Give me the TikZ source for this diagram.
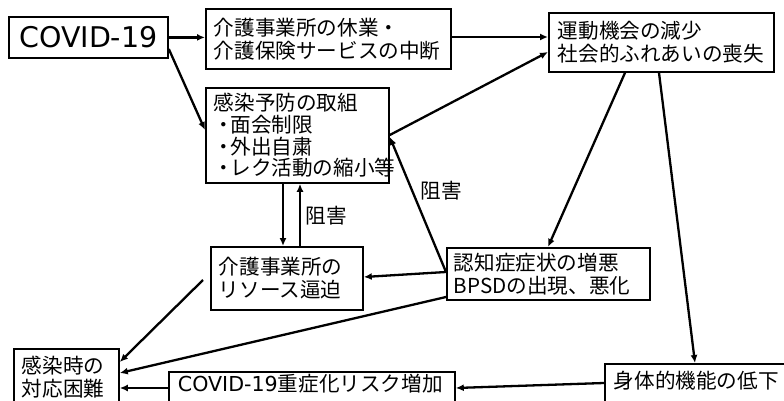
\documentclass[tikz,border=0pt]{standalone}
\usepackage{fontspec}
\setmainfont{Noto Sans CJK JP}
\newfontfamily\latfont{DejaVu Sans}
\usetikzlibrary{arrows.meta,calc}
\newcommand{\bul}{・\kern-4pt}
\begin{document}
\begin{tikzpicture}[x=1pt,y=-1pt,
  box/.style={draw, line width=1.8pt, anchor=north west, inner xsep=8pt, inner ysep=0pt,
    align=left, font=\fontsize{20.6}{23}\selectfont},
  arr/.style={line width=2.3pt, -{Latex[length=8pt,width=7pt]}},
  lbl/.style={font=\fontsize{20.6}{23}\selectfont, inner sep=0pt}]
\useasboundingbox (0,0) rectangle (784,401);
\clip (0,0) rectangle (784,401);
\node[draw, line width=1.8pt, anchor=north west, inner sep=0pt, minimum width=159pt, minimum height=41pt,
  font=\latfont\fontsize{28.5}{30}\selectfont] (b1) at (8,16) {COVID-19};
\node[box, text width=229pt, minimum height=60pt] (b2) at (205,8) {介護事業所の休業・\\介護保険サービスの中断};
\node[box, inner xsep=9pt, text width=207pt, minimum height=59pt] (b3) at (548,12) {運動機会の減少\\社会的ふれあいの喪失};
\node[box, text width=167pt, minimum height=95pt, font=\fontsize{20.6}{21.7}\selectfont] (b4) at (205,87) {感染予防の取組\\\bul 面会制限\\\bul 外出自粛\\\bul レク活動の縮小等};
\node[box, text width=136pt, minimum height=63pt] (b5) at (210,246) {介護事業所の\\リソース逼迫};
\node[box, inner xsep=7pt, text width=189pt, minimum height=52pt] (b6) at (446,247) {認知症症状の増悪\\BPSDの出現、悪化};
\node[box, text width=89pt, minimum height=56pt] (b7) at (13,348) {感染時の\\対応困難};
\node[box, inner xsep=9pt, inner ysep=5pt, text width=268pt, text height=15pt, text depth=40pt] (b8) at (168,371) {{\latfont COVID-19}重症化リスク増加};
\node[box, inner xsep=9pt, inner ysep=5pt, text width=200pt, text height=20pt, text depth=40pt] (b9) at (604,363) {身体的機能の低下};
\node[lbl] (h1) at (441,190.5) {阻害};
\node[lbl] (h2) at (326,216) {阻害};
\draw[arr] (b1.east) -- (b1.east -| b2.west);
\draw[arr] (b1.east |- 0,49) -- (b4.west |- 0,130);
\draw[arr] (b2.east |- 0,37) -- (b3.west |- 0,37);
\draw[arr] (b4.east |- 0,135) -- (b3.west |- 0,52);
\draw[arr] (b3.south -| 625,0) -- (b6.north -| 548,0);
\draw[arr] (b3.south -| 659,0) -- (b9.north -| 695,0);
\draw[arr] (b6.west |- 0,272) -- (b4.east |- 0,137);
\draw[arr] (b6.west |- 0,272) -- (b5.east |- 0,277);
\draw[arr] (b4.south -| 283,0) -- (b5.north -| 283,0);
\draw[arr] (b5.north -| 300,0) -- (b4.south -| 300,0);
\draw[arr] (b6.west |- 0,297) -- (b7.east |- 0,373);
\draw[arr] ($(b5.west |- 0,280)+(-7,0)$) -- (b7.east |- 0,362);
\draw[arr] (b8.west |- 0,388) -- (b7.east |- 0,388);
\draw[arr] (b9.west |- 0,383) -- (b8.east |- 0,388);
\end{tikzpicture}
\end{document}
